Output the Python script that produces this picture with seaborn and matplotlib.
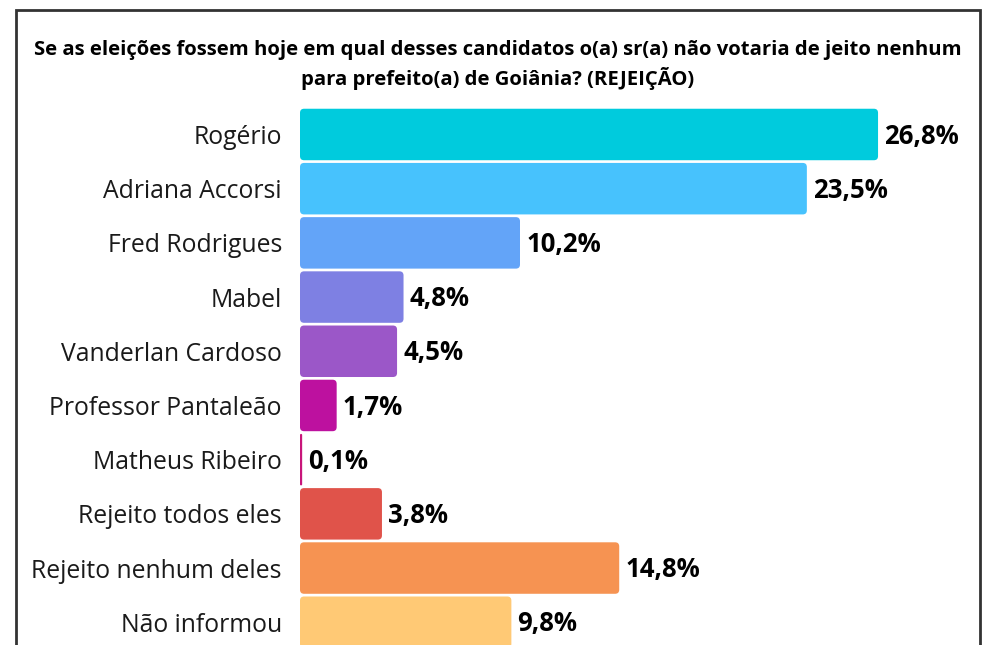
import matplotlib
matplotlib.use("Agg")
import matplotlib.pyplot as plt
import seaborn as sns
import pandas as pd
from matplotlib.patches import FancyBboxPatch, Rectangle

candidatos = ["Rogério", "Adriana Accorsi", "Fred Rodrigues", "Mabel", "Vanderlan Cardoso",
              "Professor Pantaleão", "Matheus Ribeiro", "Rejeito todos eles",
              "Rejeito nenhum deles", "Não informou"]
rejeicao = [26.8, 23.5, 10.2, 4.8, 4.5, 1.7, 0.1, 3.8, 14.8, 9.8]
cores = ["#00CBDD", "#47C2FD", "#63A4F8", "#7E80E3", "#9B57C8",
         "#BD119F", "#C8157A", "#E0534A", "#F69352", "#FFC975"]
titulo = ("Se as eleições fossem hoje em qual desses candidatos o(a) sr(a) não votaria de jeito nenhum\n"
          "para prefeito(a) de Goiânia? (REJEIÇÃO)")

df = pd.DataFrame({"candidato": candidatos, "valor": rejeicao})

sns.set_theme(style="white")
plt.rcParams['font.family'] = ['Open Sans', 'DejaVu Sans']

fig = plt.figure(figsize=(9.96, 6.45), dpi=100)
ax = fig.add_axes([300 / 996, 0, 660 / 996, 540 / 645])

sns.barplot(data=df, x="valor", y="candidato", hue="candidato", palette=cores,
            legend=False, width=0.95, ax=ax, saturation=1)

# swap plain bars for rounded ones
bars = list(ax.patches)
for p in bars:
    x, y = p.get_x(), p.get_y()
    w, h = p.get_width(), p.get_height()
    r = min(0.19, w / 2)
    rb = FancyBboxPatch((x, y), w, h, boxstyle=f"round,pad=0,rounding_size={r}",
                        mutation_aspect=0.4, facecolor=p.get_facecolor(),
                        edgecolor="none")
    p.remove()
    ax.add_patch(rb)

for i, v in enumerate(rejeicao):
    ax.text(v + 0.28, i + 0.03, f"{v:.1f}%".replace(".", ","), va="center", ha="left",
            fontsize=18.5, fontweight="bold", color="#000000")

ax.set_xlim(0, 30.6)
ax.set_ylim(9.42, -0.544)
ax.set_xlabel("")
ax.set_ylabel("")
ax.set_xticks([])
ax.tick_params(axis="y", length=0, pad=13, labelsize=17.8, labelcolor="#1a1a1a")
sns.despine(ax=ax, left=True, bottom=True)

fig.text(0.4995, 1 - 65 / 645, titulo, ha="center", va="center", fontsize=14.6,
         fontweight="bold", color="#000000", linespacing=1.42)

fig.patches.append(Rectangle((16 / 996, -0.05), 964 / 996, 1.05 - 10 / 645,
                             transform=fig.transFigure, fill=False,
                             edgecolor="#333333", linewidth=2))

fig.savefig("out.png", dpi=100)
